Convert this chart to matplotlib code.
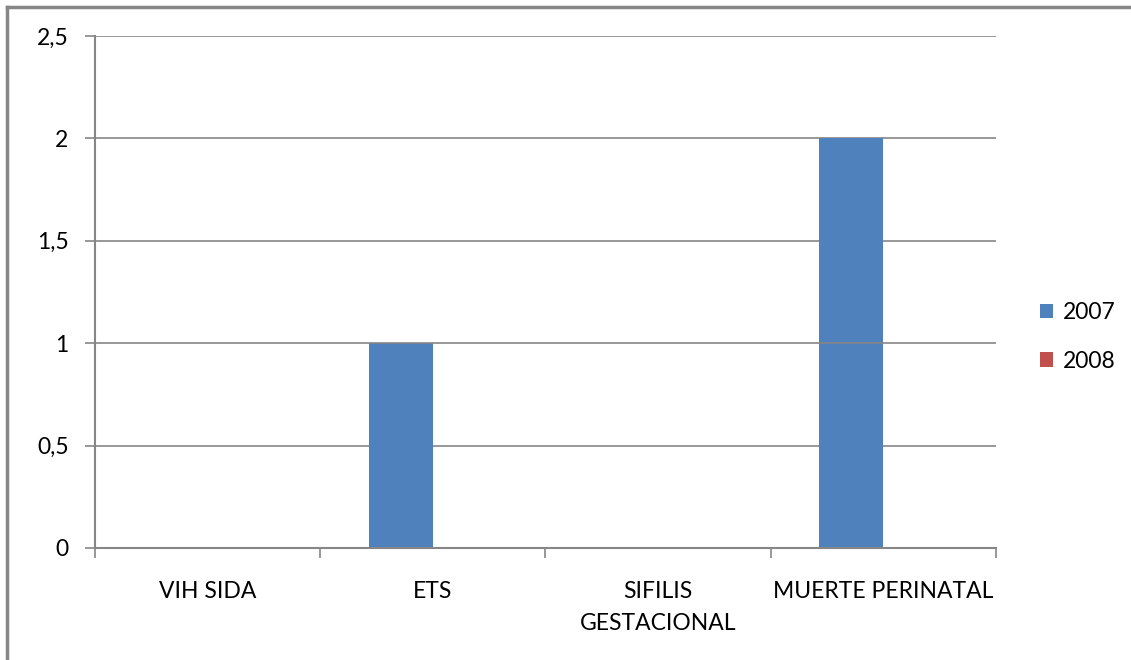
import numpy as np
import matplotlib
matplotlib.use("Agg")
import matplotlib.pyplot as plt
from matplotlib.patches import Patch
from matplotlib.lines import Line2D

# Data
categories = ["VIH SIDA", "ETS", "SIFILIS\nGESTACIONAL", "MUERTE PERINATAL"]
series_names = ["2007", "2008"]
values_2007 = [0, 1, 0, 2]
values_2008 = [0, 0, 0, 0]
y_ticks = [0, 0.5, 1, 1.5, 2, 2.5]
y_tick_labels = ["0", "0,5", "1", "1,5", "2", "2,5"]

colors = ["#4F81BD", "#C0504D"]
grid_color = "#868686"

plt.rcParams["font.family"] = ["Lato", "DejaVu Sans"]

fig = plt.figure(figsize=(11.31, 6.6), dpi=100)
ax = fig.add_axes([95 / 1131, 1 - 548 / 660, (996 - 95) / 1131, (548 - 36) / 660])

x = np.arange(len(categories))
width = 1 / 3.5
ax.bar(x - width / 2, values_2007, width, color=colors[0], zorder=2)
ax.bar(x + width / 2, values_2008, width, color=colors[1], zorder=2)

ax.set_xlim(-0.5, len(categories) - 0.5)
ax.set_ylim(0, 2.5)
ax.set_yticks(y_ticks)
ax.set_yticklabels(y_tick_labels)
for yv in y_ticks[1:]:
    ax.axhline(yv, color=grid_color, lw=1.2, zorder=3 if yv == 1 else 1)

ax.set_xticks(x)
ax.set_xticklabels(categories, linespacing=1.6, va="top")
ax.set_xticks(np.arange(-0.5, len(categories)), minor=True)
ax.tick_params(axis="x", which="major", length=0, pad=24, labelsize=16.5)
ax.tick_params(axis="x", which="minor", length=7, width=1.2, color=grid_color, direction="out")
ax.tick_params(axis="y", length=7, width=1.2, color=grid_color, pad=12, labelsize=16.5)

for side in ["top", "right"]:
    ax.spines[side].set_visible(False)
for side in ["left", "bottom"]:
    ax.spines[side].set_color(grid_color)
    ax.spines[side].set_linewidth(1.5)
ax.spines["bottom"].set_zorder(4)

handles = [Patch(facecolor=c, edgecolor="none") for c in colors]
fig.legend(handles, series_names, loc="center left", bbox_to_anchor=(1019 / 1131, 1 - 337 / 660),
           frameon=False, fontsize=16.5, handlelength=0.6, handleheight=0.6,
           handletextpad=0.4, labelspacing=1.2)

# outer chart border (top and left edges visible)
fig.add_artist(Line2D([7 / 1131, 1], [1 - 7 / 660, 1 - 7 / 660], color=grid_color, lw=2.5))
fig.add_artist(Line2D([7 / 1131, 7 / 1131], [0, 1 - 7 / 660], color=grid_color, lw=2.5))

fig.savefig("out.png", dpi=100)
